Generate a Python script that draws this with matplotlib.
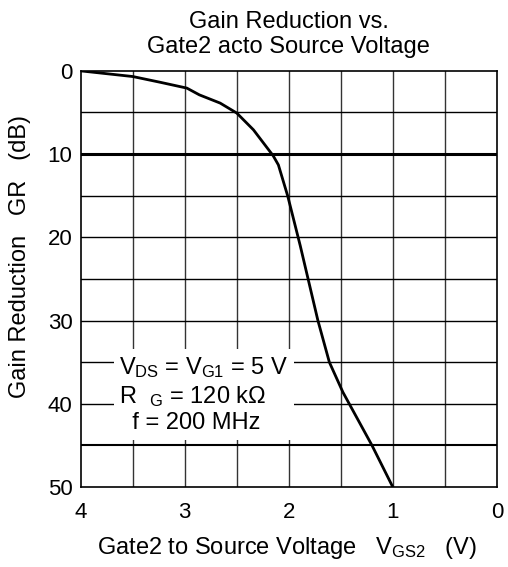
import matplotlib
matplotlib.use("Agg")
import matplotlib.pyplot as plt

plt.rcParams['font.family'] = ['Liberation Sans', 'DejaVu Sans']
plt.rcParams['mathtext.fontset'] = 'custom'
plt.rcParams['mathtext.rm'] = 'Liberation Sans'
plt.rcParams['mathtext.it'] = 'Liberation Sans'

# curve
vgs2 = [4.0, 3.5, 3.24, 2.98, 2.86, 2.66, 2.5, 2.34, 2.15, 2.1, 2.01, 1.89, 1.72, 1.61, 1.48, 1.41, 1.2, 1.0]
gr = [0.0, 0.68, 1.36, 2.07, 2.88, 3.87, 5.07, 7.08, 10.2, 11.3, 15.05, 21.0, 30.0, 35.0, 38.6, 40.2, 45.0, 50.0]

xticks = [4, 3, 2, 1, 0]
yticks = [0, 10, 20, 30, 40, 50]
xgrid = [3.5, 3.0, 2.5, 2.0, 1.5, 1.0, 0.5]
ygrid = [5, 10, 15, 20, 25, 30, 35, 40, 45]

fig = plt.figure(figsize=(5.08, 5.67), dpi=100)
ax = fig.add_axes([0.159, 0.141, 0.819, 0.734])
ax.set_xlim(4, 0)
ax.set_ylim(50, 0)

for x in xgrid:
    ax.axvline(x, color='#333333', lw=1.0, zorder=1)
for y in ygrid:
    ax.axhline(y, color='black', lw=2.2 if y == 10 else (1.5 if y == 45 else 1.0), zorder=1)

ax.plot(vgs2, gr, color='black', lw=2.0, zorder=3)

ax.set_xticks(xticks)
ax.set_yticks(yticks)
ax.tick_params(length=0, labelsize=16)
ax.tick_params(axis='x', pad=11)
ax.tick_params(axis='y', pad=6)
for s in ax.spines.values():
    s.set_linewidth(1.2)

ax.text(3.63, 38.9, '$V_{DS}$ = $V_{G1}$ = 5 V\nR  $_{G}$ = 120 k\u03a9\n  f = 200 MHz',
        fontsize=17, va='center', ha='left', linespacing=1.2, zorder=4,
        bbox=dict(facecolor='white', edgecolor='none', pad=4))

fig.text(0.568, 0.961, 'Gain Reduction vs.', ha='center', va='center', fontsize=17)
fig.text(0.568, 0.917, 'Gate2 acto Source Voltage', ha='center', va='center', fontsize=17)
fig.text(0.565, 0.033, 'Gate2 to Source Voltage   $V_{GS2}$   (V)', ha='center', va='center', fontsize=17)
fig.text(0.040, 0.547, 'Gain Reduction   GR   (dB)', ha='center', va='center', rotation=90, fontsize=17)

fig.savefig('out.png', dpi=100)
